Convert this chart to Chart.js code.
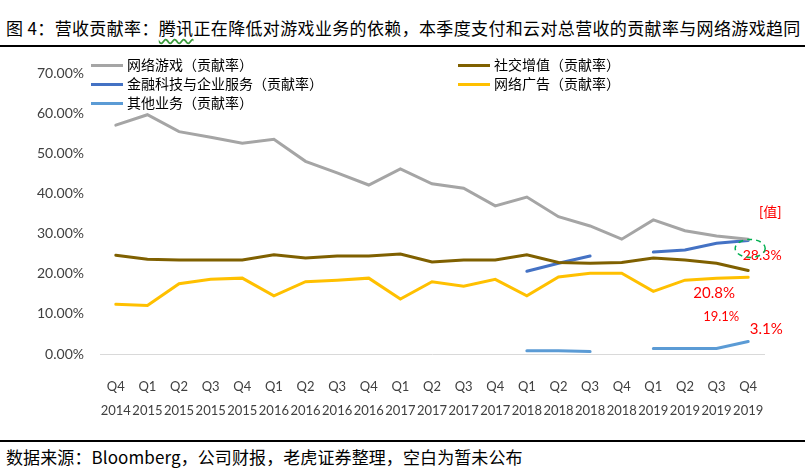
<!DOCTYPE html>
<html>
<head>
<meta charset="utf-8">
<script src="https://cdn.jsdelivr.net/npm/chart.js@4.4.1/dist/chart.umd.min.js"></script>
<style>
  html, body { margin: 0; padding: 0; background: #fff; }
  .page { position: relative; width: 805px; height: 476px; overflow: hidden; font-family: "Noto Sans CJK SC", sans-serif; color: #000; }
  .title { position: absolute; left: 6px; top: 15px; font-size: 17px; line-height: 26px; letter-spacing: 0.35px; white-space: nowrap; }
  .title .spell { text-decoration: underline wavy #3a9a3a; text-underline-offset: 3px; }
  .rule { position: absolute; left: 0; width: 805px; height: 2px; background: #000; }
  .wrap { position: absolute; left: 0; top: 47px; width: 805px; height: 393px; }
  .legend { position: absolute; font-size: 14px; line-height: 18px; white-space: nowrap; }
  .legend i { display: inline-block; width: 32px; height: 3px; vertical-align: middle; margin-right: 4px; position: relative; top: -1px; }
  .source { position: absolute; left: 6px; top: 445px; font-size: 17px; line-height: 24px; letter-spacing: 0.1px; white-space: nowrap; }
</style>
</head>
<body>
<div class="page">
  <div class="title">图 4：营收贡献率：<span class="spell">腾讯</span>正在降低对游戏业务的依赖，本季度支付和云对总营收的贡献率与网络游戏趋同</div>
  <div class="rule" style="top:45px"></div>
  <div class="wrap"><canvas id="chart" width="805" height="393"></canvas></div>
  <div id="legend"></div>
  <div class="rule" style="top:440px"></div>
  <div class="source">数据来源：Bloomberg，公司财报，老虎证券整理，空白为暂未公布</div>
</div>
<script>
const quarters = ["Q4", "Q1", "Q2", "Q3", "Q4", "Q1", "Q2", "Q3", "Q4", "Q1", "Q2", "Q3", "Q4", "Q1", "Q2", "Q3", "Q4", "Q1", "Q2", "Q3", "Q4"];
const years = ["2014", "2015", "2015", "2015", "2015", "2016", "2016", "2016", "2016", "2017", "2017", "2017", "2017", "2018", "2018", "2018", "2018", "2019", "2019", "2019", "2019"];

// contribution to revenue, %
const gaming = [57.0, 59.6, 55.4, 54.0, 52.5, 53.5, 48.0, 45.1, 42.1, 46.1, 42.4, 41.3, 36.9, 39.1, 34.2, 31.9, 28.6, 33.4, 30.7, 29.4, 28.6];
const social = [24.6, 23.6, 23.4, 23.4, 23.4, 24.7, 23.9, 24.4, 24.4, 24.9, 22.9, 23.4, 23.4, 24.7, 22.8, 22.6, 22.8, 23.9, 23.4, 22.6, 20.8];
const fintech = [null, null, null, null, null, null, null, null, null, null, null, null, null, 20.6, 22.6, 24.4, null, 25.4, 25.9, 27.6, 28.3];
const ads = [12.4, 12.1, 17.5, 18.6, 18.9, 14.5, 18.0, 18.4, 18.9, 13.7, 18.0, 16.9, 18.6, 14.5, 19.2, 20.1, 20.1, 15.6, 18.4, 18.9, 19.1];
const others = [null, null, null, null, null, null, null, null, null, null, null, null, null, 0.8, 0.8, 0.6, null, 1.4, 1.4, 1.4, 3.1];

const yTicks = [0, 10, 20, 30, 40, 50, 60, 70];

const series = [
  { label: "网络游戏（贡献率）", data: gaming, color: "#a5a5a5", lx: 91, ly: 55 },
  { label: "社交增值（贡献率）", data: social, color: "#7f6000", lx: 458, ly: 55 },
  { label: "金融科技与企业服务（贡献率）", data: fintech, color: "#4472c4", lx: 91, ly: 74 },
  { label: "网络广告（贡献率）", data: ads, color: "#ffc000", lx: 458, ly: 74 },
  { label: "其他业务（贡献率）", data: others, color: "#5b9bd5", lx: 91, ly: 93 },
];

// red value notes near the last quarter: [text, series index, dx, dy, font size]
const notes = [
  ["[值]", 2, 22, -28, 14],
  ["28.3%", 2, 14, 15, 14],
  ["20.8%", 1, -34, 23, 15],
  ["19.1%", 3, -27, 39, 13],
  ["3.1%", 4, 18, -12, 15],
];

document.getElementById("legend").innerHTML = series
  .map((s) => `<div class="legend" style="left:${s.lx}px;top:${s.ly}px"><i style="background:${s.color}"></i>${s.label}</div>`)
  .join("");

const notesPlugin = {
  id: "notes",
  afterDatasetsDraw(chart) {
    const { ctx, scales: { x, y } } = chart;
    const last = quarters.length - 1;
    ctx.save();
    ctx.textAlign = "center";
    ctx.textBaseline = "middle";
    ctx.fillStyle = "#ff0000";
    for (const [text, si, dx, dy, size] of notes) {
      const px = x.getPixelForValue(last) + dx;
      const py = y.getPixelForValue(series[si].data[last]) + dy;
      ctx.font = `${size}px Lato, "Noto Sans CJK SC", sans-serif`;
      ctx.fillText(text, px, py);
    }
    // green dashed circle around the fintech end point
    const cx = x.getPixelForValue(last) + 2;
    const cy = y.getPixelForValue(fintech[last]) + 8;
    ctx.strokeStyle = "#00b050";
    ctx.lineWidth = 1.5;
    ctx.setLineDash([5, 4]);
    ctx.beginPath();
    ctx.ellipse(cx, cy, 15, 9, 0, 0, Math.PI * 2);
    ctx.stroke();
    ctx.restore();
  },
};

new Chart(document.getElementById("chart"), {
  type: "line",
  data: {
    labels: quarters.map((q, i) => [q, years[i]]),
    datasets: series.map((s) => ({
      label: s.label, data: s.data, borderColor: s.color, backgroundColor: s.color,
      borderWidth: 3, pointRadius: 0, tension: 0, spanGaps: false, borderCapStyle: "round",
    })),
  },
  options: {
    responsive: false,
    animation: false,
    devicePixelRatio: 1,
    layout: { padding: { top: 26, right: 41, left: 0, bottom: 0 } },
    plugins: { legend: { display: false }, tooltip: { enabled: false } },
    scales: {
      x: {
        offset: true,
        grid: { display: false },
        border: { color: "#d9d9d9", width: 1 },
        ticks: { autoSkip: false, maxRotation: 0, color: "#404040", padding: 12, font: { family: "Lato", size: 13, lineHeight: 1.9 } },
        afterFit: (s) => { s.height = 86; },
      },
      y: {
        min: 0, max: 70,
        grid: { display: false },
        border: { display: false },
        afterBuildTicks: (s) => { s.ticks = yTicks.map((v) => ({ value: v })); },
        ticks: { color: "#404040", padding: 8, font: { family: "Lato", size: 14 }, callback: (v) => v.toFixed(2) + "%" },
        afterFit: (s) => { s.width = 100; },
      },
    },
  },
  plugins: [notesPlugin],
});
</script>
</body>
</html>
